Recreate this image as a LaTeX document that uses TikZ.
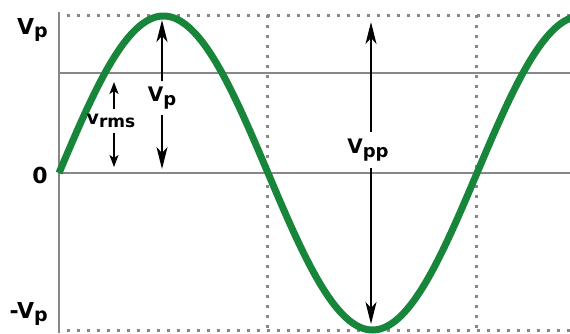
\documentclass[tikz,border=0pt]{standalone}
\usepackage{fontspec}
\setmainfont{DejaVu Sans}
\usetikzlibrary{arrows.meta}
\definecolor{wavegreen}{RGB}{24,134,58}
\definecolor{gridgray}{RGB}{135,135,135}
\newcommand{\lowsub}[2]{\raisebox{-0.3ex}{\fontsize{#1}{#1}\selectfont #2}}

\begin{document}
\begin{tikzpicture}[x=1pt,y=-1pt,
    axisline/.style={gridgray,line width=2.4pt},
    gridline/.style={gridgray,line width=3pt,dash pattern=on 3pt off 7pt},
    wave/.style={wavegreen,line width=7pt},
    arrow/.style={-{Stealth[length=22pt,width=11pt,inset=6pt]},line width=2pt},
    smallarrow/.style={-{Stealth[length=12pt,width=9pt,inset=3pt]},line width=1.7pt},
    axlbl/.style={font=\bfseries\fontsize{22}{22}\selectfont,inner sep=3pt},
    lbl/.style={font=\bfseries\fontsize{20}{20}\selectfont,inner sep=3pt},
]
\useasboundingbox (0,0) rectangle (570,333);
% grid
\draw[gridline] (67,15) -- (570,15);
\draw[gridline] (67,330) -- (570,330);
\draw[gridline] (267,15) -- (267,330);
\draw[gridline] (476,15) -- (476,330);
\draw[axisline] (59,12) -- (59,333);
\draw[axisline] (59,73) -- (570,73);
\draw[axisline] (59,173) -- (570,173);
% the wave (period 418px)
\draw[wave] plot[domain=59:575,samples=200] (\x,{173-157*sin((\x-59)*0.86124)});
% axis labels
\node[axlbl,anchor=east] (vplus) at (51,30) {V\lowsub{19}{p}};
\node[axlbl,anchor=east] (zero) at (51,175) {0};
\node[axlbl,anchor=east] (vminus) at (51,314) {-V\lowsub{19}{p}};
% peak
\node[lbl,inner sep=6pt] (vp) at (162,98) {V\lowsub{18}{p}};
\coordinate (vptop) at (162,20);
\coordinate (vpbot) at (162,169);
\draw[arrow] (vp) -- (vptop);
\draw[arrow] (vp) -- (vpbot);
% rms
\node[lbl,font=\bfseries\fontsize{19}{19}\selectfont,inner xsep=2pt,inner ysep=5pt] (vrms) at (111,121) {v\lowsub{17}{rms}};
\coordinate (rmstop) at (114,82);
\coordinate (rmsbot) at (114,167);
\draw[smallarrow] (vrms.north -| rmstop) -- (rmstop);
\draw[smallarrow] (vrms.south -| rmsbot) -- (rmsbot);
% peak to peak
\node[lbl,inner sep=7pt] (vpp) at (368,150) {V\lowsub{18}{pp}};
\coordinate (pptop) at (371,22);
\coordinate (ppbot) at (371,324);
\draw[arrow] (vpp.north -| pptop) -- (pptop);
\draw[arrow] (vpp.south -| ppbot) -- (ppbot);
\end{tikzpicture}
\end{document}
